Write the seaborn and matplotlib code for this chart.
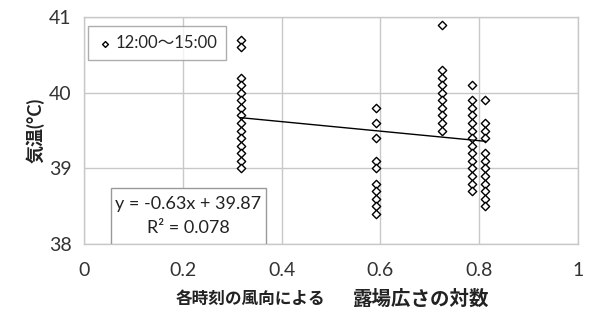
import numpy as np
import pandas as pd
import matplotlib
matplotlib.use("Agg")
import matplotlib.pyplot as plt
import seaborn as sns
from matplotlib.patches import Rectangle

# ---- data ----
x_groups = [0.317, 0.591, 0.724, 0.785, 0.813]
y_g1 = [40.7, 40.6, 40.2, 40.1, 40.0, 39.9, 39.8, 39.7, 39.6, 39.5, 39.4, 39.3, 39.2, 39.1, 39.0]
y_g2 = [39.8, 39.6, 39.4, 39.1, 39.0, 38.8, 38.7, 38.6, 38.5, 38.4]
y_g3 = [40.9, 40.3, 40.2, 40.1, 40.0, 39.9, 39.8, 39.7, 39.6, 39.5]
y_g4 = [40.1, 39.9, 39.8, 39.7, 39.6, 39.5, 39.4, 39.3, 39.2, 39.1, 39.0, 38.9, 38.8, 38.7]
y_g5 = [39.9, 39.6, 39.5, 39.4, 39.2, 39.1, 39.0, 38.9, 38.8, 38.7, 38.6, 38.5]
slope = -0.63
intercept = 39.87
eq_text = "y = -0.63x + 39.87"
r2_text = "R² = 0.078"
series_label = "12:00〜15:00"
x_ticks = [0, 0.2, 0.4, 0.6, 0.8, 1]
x_ticklabels = ["0", "0.2", "0.4", "0.6", "0.8", "1"]
y_ticks = [38, 39, 40, 41]
ylabel = "気温(°C)"
xlabel_small = "各時刻の風向による"
xlabel_big = "露場広さの対数"

rows = []
for xv, ys in zip(x_groups, [y_g1, y_g2, y_g3, y_g4, y_g5]):
    for yv in ys:
        rows.append((xv, yv))
df = pd.DataFrame(rows, columns=["x", "y"])

sns.set_theme(style="white")
plt.rcParams["font.family"] = ["Lato", "Noto Sans CJK JP", "DejaVu Sans"]

fig = plt.figure(figsize=(6.0, 3.28), dpi=100)
ax = fig.add_axes([0.14, 0.256, 0.823, 0.692])

grid_c = "#c8c8c8"
sns.scatterplot(data=df, x="x", y="y", ax=ax, marker="D", s=18,
                facecolor="white", edgecolor="black", linewidth=1.0,
                label=series_label, zorder=3)

xl = np.array([min(x_groups), max(x_groups)])
ax.plot(xl, slope * xl + intercept, color="black", lw=1.0, zorder=4)

ax.set_xlim(0, 1)
ax.set_ylim(38, 41)
ax.set_xticks(x_ticks)
ax.set_xticklabels(x_ticklabels)
ax.set_yticks(y_ticks)
ax.grid(True, color=grid_c, lw=1.0)
ax.set_axisbelow(True)
for s in ax.spines.values():
    s.set_color(grid_c)
    s.set_linewidth(1.0)
ax.tick_params(axis="both", length=0, labelsize=14, colors="#333333")
ax.tick_params(axis="x", pad=13)
ax.tick_params(axis="y", pad=9)
ax.set_xlabel("")
ax.set_ylabel(ylabel, fontsize=13, fontweight="bold", color="#222222", labelpad=3)

leg = ax.legend(loc="upper left", bbox_to_anchor=(0.008, 0.96), fontsize=12,
                frameon=True, fancybox=False, edgecolor="#999999", borderaxespad=0,
                handletextpad=0.1, borderpad=0.55, handlelength=1.0, markerscale=0.7)
leg.get_frame().set_linewidth(1.0)

ax.add_patch(Rectangle((0.054, 0.0), 0.314, 0.247, transform=ax.transAxes,
                       facecolor="white", edgecolor="#999999", lw=1.0, zorder=5))
ax.text(0.211, 0.175, eq_text, transform=ax.transAxes, ha="center", va="center",
        fontsize=13, color="#222222", zorder=6)
ax.text(0.211, 0.07, r2_text, transform=ax.transAxes, ha="center", va="center",
        fontsize=13, color="#222222", zorder=6)

fig.text(0.418, 0.09, xlabel_small, ha="center", va="center", fontsize=12,
         fontweight="bold", color="#222222")
fig.text(0.70, 0.09, xlabel_big, ha="center", va="center", fontsize=14,
         fontweight="bold", color="#222222")

fig.savefig("out.png", dpi=100)
